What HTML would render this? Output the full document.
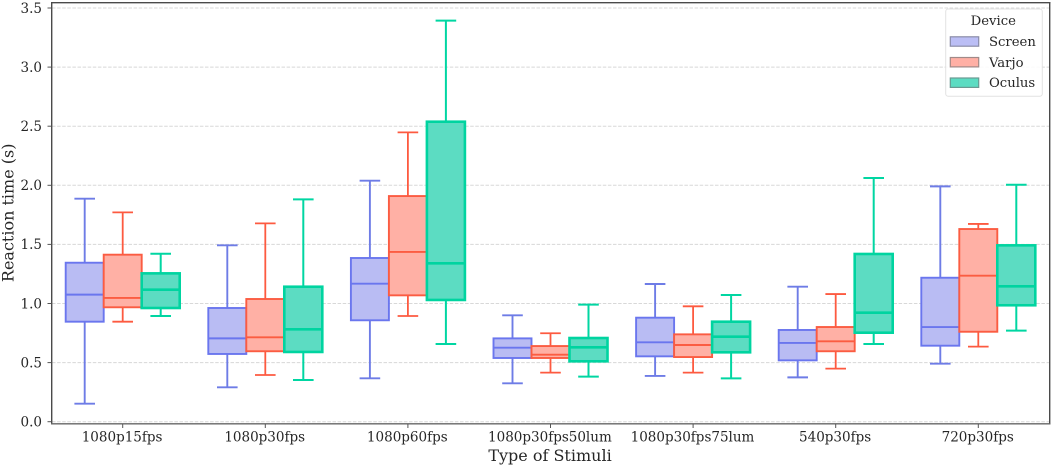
<!DOCTYPE html>
<html lang="en">
<head>
<meta charset="utf-8">
<title>Reaction time by stimuli and device</title>
<style>
html,body{margin:0;padding:0;background:#fff;width:1052px;height:466px;overflow:hidden}
svg{display:block;font-family:"DejaVu Serif","Liberation Serif",serif;filter:blur(.35px)}
text{fill:#262626}
</style>
</head>
<body>
<svg id="chart" width="1052" height="466" viewBox="0 0 1052 466" xmlns="http://www.w3.org/2000/svg">
  <rect x="0" y="0" width="1052" height="466" fill="#fff"/>
  <g id="grid"></g>
  <g id="marks"></g>
  <g id="axes">
    <line x1="51.7" y1="2" x2="51.7" y2="424.5" stroke="#4a4a4a" stroke-width="1.4"/>
    <line x1="1049.7" y1="2" x2="1049.7" y2="424.5" stroke="#4a4a4a" stroke-width="1.4"/>
    <line x1="51" y1="2.7" x2="1050.4" y2="2.7" stroke="#4a4a4a" stroke-width="1.4"/>
    <line x1="51" y1="423.8" x2="1050.4" y2="423.8" stroke="#666" stroke-width="1.4"/>
  </g>
  <g id="ticks"></g>
  <text transform="translate(13.5 212.8) rotate(-90)" text-anchor="middle" font-size="16">Reaction time (s)</text>
  <text x="550" y="461" text-anchor="middle" font-size="16">Type of Stimuli</text>
  <g>
    <rect x="945.7" y="9" width="96.6" height="87.3" rx="2.5" fill="#fff" fill-opacity=".85" stroke="#e2e2e2" stroke-width="1"/>
    <text x="993.3" y="25" text-anchor="middle" font-size="13.2">Device</text>
    <g>
      <rect x="950.3" y="36.8" width="28.4" height="9.4" fill="#bbbef5" stroke="#8a8ca8" stroke-width="1.2"/>
      <text x="989" y="46" font-size="13.2">Screen</text>
    </g>
    <g>
      <rect x="950.3" y="57.5" width="28.4" height="9.4" fill="#ffb0a5" stroke="#a08a88" stroke-width="1.2"/>
      <text x="989" y="67" font-size="13.2">Varjo</text>
    </g>
    <g>
      <rect x="950.3" y="78" width="28.4" height="9.4" fill="#5cdcc2" stroke="#6a9a92" stroke-width="1.2"/>
      <text x="989" y="87" font-size="13.2">Oculus</text>
    </g>
  </g>
</svg>
<script>
const categories = ['1080p15fps','1080p30fps','1080p60fps','1080p30fps50lum','1080p30fps75lum','540p30fps','720p30fps'];
const yTicks = [0,0.5,1,1.5,2,2.5,3,3.5];
const screenWhiskerLow  = [0.152,0.291,0.367,0.325,0.387,0.375,0.491];
const screenQ1          = [0.846,0.573,0.858,0.539,0.553,0.519,0.643];
const screenMedian      = [1.075,0.705,1.168,0.626,0.672,0.666,0.801];
const screenQ3          = [1.345,0.962,1.385,0.705,0.880,0.776,1.218];
const screenWhiskerHigh = [1.887,1.492,2.039,0.900,1.165,1.142,1.991];
const varjoWhiskerLow   = [0.846,0.395,0.894,0.415,0.415,0.449,0.635];
const varjoQ1           = [0.968,0.596,1.069,0.539,0.547,0.596,0.761];
const varjoMedian       = [1.047,0.714,1.436,0.567,0.649,0.680,1.235];
const varjoQ3           = [1.413,1.038,1.909,0.640,0.739,0.801,1.630];
const varjoWhiskerHigh  = [1.771,1.678,2.448,0.748,0.976,1.080,1.673];
const oculusWhiskerLow  = [0.894,0.353,0.657,0.381,0.367,0.657,0.770];
const oculusQ1          = [0.962,0.590,1.030,0.511,0.587,0.753,0.985];
const oculusMedian      = [1.117,0.782,1.340,0.629,0.719,0.922,1.145];
const oculusQ3          = [1.255,1.142,2.538,0.708,0.846,1.419,1.492];
const oculusWhiskerHigh = [1.421,1.881,3.393,0.990,1.072,2.062,2.005];

const NS = 'http://www.w3.org/2000/svg';
const yScale = v => 421.7 - v * 118.2;
const xScale = i => 122.7 + i * 142.6;
const BOX_W = 38;
const CAP_W = 20.6;

const seriesList = [
  {key:'screen', low:screenWhiskerLow, q1:screenQ1, med:screenMedian, q3:screenQ3, high:screenWhiskerHigh, fill:'#b9bcf3', edge:'#6a76ee', whisk:'#6e7ce6', lw:1.9, wlw:1.9, off:-1},
  {key:'varjo', low:varjoWhiskerLow, q1:varjoQ1, med:varjoMedian, q3:varjoQ3, high:varjoWhiskerHigh, fill:'#ffb0a5', edge:'#fb5c42', whisk:'#fd5a40', lw:1.9, wlw:1.8, off:0},
  {key:'oculus', low:oculusWhiskerLow, q1:oculusQ1, med:oculusMedian, q3:oculusQ3, high:oculusWhiskerHigh, fill:'#5cdcc2', edge:'#00d4a0', whisk:'#00d6a2', lw:2.6, wlw:2, off:1}
];

function make(tag, attrs, parent) {
  const el = document.createElementNS(NS, tag);
  for (const k in attrs) el.setAttribute(k, attrs[k]);
  parent.appendChild(el);
  return el;
}

const gridG = document.getElementById('grid');
const ticksG = document.getElementById('ticks');
const marksG = document.getElementById('marks');

yTicks.forEach(t => {
  const y = yScale(t);
  const g = make('line', {x1:52, x2:1049, y1:y, y2:y, stroke:'#d8d8d8', 'stroke-width':1, 'stroke-dasharray':'3.5 1.6'}, gridG);
  
  
  const tk = make('line', {x1:47.5, x2:51.5, y1:y, y2:y, stroke:'#555', 'stroke-width':1}, ticksG);
  
  
  const lb = make('text', {x:42, y:y + 4.8, 'text-anchor':'end', 'font-size':13.5}, ticksG);
  
  
  lb.textContent = t.toFixed(1);
});

categories.forEach((c, i) => {
  const x = xScale(i);
  const tk = make('line', {x1:x, x2:x, y1:424, y2:428, stroke:'#555', 'stroke-width':1}, ticksG);
  
  
  const lb = make('text', {x:x - 0.6, y:441.5, 'text-anchor':'middle', 'font-size':13.5}, ticksG);
  
  
  lb.textContent = c;
});

seriesList.forEach(s => {
  categories.forEach((c, i) => {
    const cx = xScale(i) + s.off * BOX_W;
    const q1 = yScale(s.q1[i]);
    const q3 = yScale(s.q3[i]);
    const med = yScale(s.med[i]);
    const lo = yScale(s.low[i]);
    const hi = yScale(s.high[i]);
    const g = make('g', {}, marksG);
    
    

    const upper = make('line', {x1:cx, x2:cx, y1:q3, y2:hi, stroke:s.whisk, 'stroke-width':s.wlw}, g);
    
    

    const lower = make('line', {x1:cx, x2:cx, y1:q1, y2:lo, stroke:s.whisk, 'stroke-width':s.wlw}, g);
    
    

    const capHigh = make('line', {x1:cx - CAP_W / 2, x2:cx + CAP_W / 2, y1:hi, y2:hi, stroke:s.whisk, 'stroke-width':s.wlw}, g);
    
    

    const capLow = make('line', {x1:cx - CAP_W / 2, x2:cx + CAP_W / 2, y1:lo, y2:lo, stroke:s.whisk, 'stroke-width':s.wlw}, g);
    
    

    const box = make('rect', {x:cx - BOX_W / 2, y:q3, width:BOX_W, height:q1 - q3, fill:s.fill, stroke:s.edge, 'stroke-width':s.lw}, g);
    
    

    const medLine = make('line', {x1:cx - BOX_W / 2, x2:cx + BOX_W / 2, y1:med, y2:med, stroke:s.edge, 'stroke-width':s.lw}, g);
    
    
  });
});
</script>
</body>
</html>
